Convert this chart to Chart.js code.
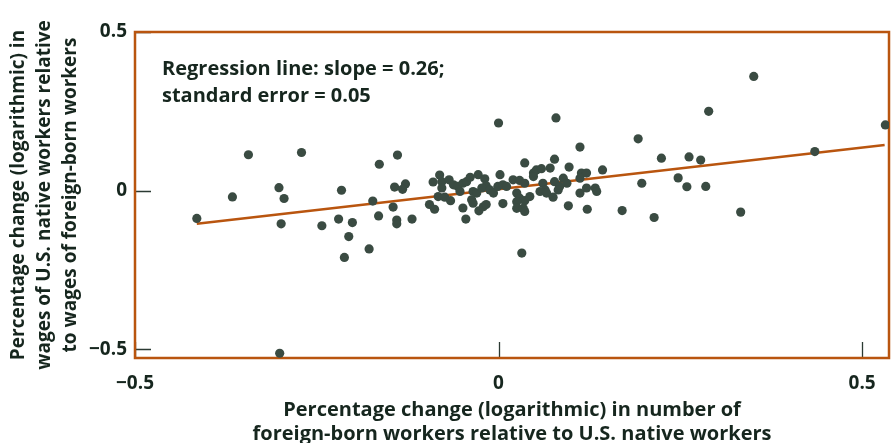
<!DOCTYPE html>
<html>
<head>
<meta charset="utf-8">
<script src="https://cdn.jsdelivr.net/npm/chart.js@4.4.1/dist/chart.umd.min.js"></script>
<style>
  html, body { margin: 0; padding: 0; background: #fff; }
</style>
</head>
<body>
<canvas id="myChart" width="896" height="443"></canvas>
<script>
const ctx = document.querySelector("#myChart");

// metro areas: change in foreign-born share vs change in relative wages
const pointsX = [
  -0.415, -0.366, -0.344, -0.302, -0.295, -0.299, -0.301, -0.271, -0.243, -0.216,
  -0.220, -0.201, -0.206, -0.212, -0.178, -0.173, -0.164, -0.165, -0.145, -0.140,
  -0.140, -0.143, -0.128, -0.132, -0.139, -0.119, -0.095, -0.088, -0.090, -0.081,
  -0.078, -0.078, -0.083, -0.074, -0.066, -0.068, -0.062, -0.056, -0.053, -0.049,
  -0.044, -0.039, -0.035, -0.030, -0.037, -0.035, -0.049, -0.045, -0.028, -0.019,
  -0.017, -0.023, -0.012, -0.007, -0.027, -0.021, -0.017, 0.002, -0.001, 0.006,
  0.011, 0.006, 0.000, 0.079, 0.032, 0.112, 0.077, 0.036, 0.097, 0.143,
  0.048, 0.052, 0.059, 0.071, 0.114, 0.121, 0.112, 0.020, 0.029, 0.036,
  0.048, 0.061, 0.064, 0.077, 0.089, 0.084, 0.094, 0.057, 0.066, 0.075,
  0.082, 0.025, 0.029, 0.036, 0.043, 0.112, 0.121, 0.133, 0.135, 0.025,
  0.025, 0.034, 0.036, 0.096, 0.122, 0.170, 0.214, 0.333, 0.197, 0.247,
  0.259, 0.285, 0.351, 0.289, 0.192, 0.224, 0.262, 0.278, 0.435, 0.532
];
const pointsY = [
  -0.088, -0.020, 0.113, 0.009, -0.025, -0.105, -0.513, 0.120, -0.111, 0.001,
  -0.090, -0.101, -0.145, -0.211, -0.184, -0.033, 0.083, -0.080, -0.052, -0.093,
  -0.105, 0.011, 0.021, 0.004, 0.112, -0.090, -0.044, -0.059, 0.027, 0.049,
  0.028, 0.008, -0.019, -0.021, -0.032, 0.034, 0.018, 0.013, -0.003, 0.023,
  0.028, 0.042, -0.003, -0.008, -0.029, -0.040, -0.055, -0.090, 0.050, 0.037,
  0.015, 0.008, 0.002, -0.008, -0.064, -0.051, -0.044, 0.050, 0.013, 0.018,
  0.013, -0.041, 0.213, 0.229, -0.197, 0.137, 0.099, 0.087, 0.074, 0.065,
  0.055, 0.065, 0.069, 0.071, 0.055, 0.055, 0.039, 0.034, 0.032, 0.023,
  0.044, 0.023, 0.002, 0.028, 0.039, 0.013, 0.023, -0.003, -0.008, -0.021,
  0.002, -0.008, -0.024, -0.032, -0.019, -0.008, 0.008, 0.008, -0.003, -0.035,
  -0.056, -0.056, -0.066, -0.048, -0.059, -0.063, -0.085, -0.068, 0.023, 0.040,
  0.012, 0.013, 0.360, 0.250, 0.163, 0.102, 0.106, 0.096, 0.123, 0.207
];

// regression line end points
const regX = [-0.415, 0.531];
const regY = [-0.105, 0.144];

const xTicks = [-0.5, 0, 0.5];
const yTicks = [-0.5, 0, 0.5];

const xTitle = [
  "Percentage change (logarithmic) in number of",
  "foreign-born workers relative to U.S. native workers",
];
const yTitle = [
  "Percentage change (logarithmic) in",
  "wages of U.S. native workers relative",
  "to wages of foreign-born workers",
];
const noteLines = ["Regression line: slope = 0.26;", "standard error = 0.05"];

const orange = "#b9550f";
const dotColor = "#3a4b42";
const textColor = "#16261e";
const fontFamily = '"Open Sans", "DejaVu Sans", sans-serif';

function fmt(v) {
  if (v === 0) return "0";
  return v < 0 ? "\u2212" + Math.abs(v) : String(v);
}

const framePlugin = {
  id: "frame",
  beforeDatasetsDraw(chart) {
    const c = chart.ctx;
    const a = chart.chartArea;
    const sx = chart.scales.x;
    const sy = chart.scales.y;
    c.save();
    // ticks point into the plot
    c.strokeStyle = "#2b3a33";
    c.lineWidth = 1.3;
    c.beginPath();
    xTicks.forEach((v) => {
      const px = Math.round(sx.getPixelForValue(v)) + 0.5;
      c.moveTo(px, a.bottom);
      c.lineTo(px, a.bottom - 16);
    });
    yTicks.forEach((v) => {
      const py = Math.round(sy.getPixelForValue(v)) + 0.5;
      c.moveTo(a.left, py);
      c.lineTo(a.left + 16, py);
    });
    c.stroke();

    c.strokeStyle = orange;
    c.lineWidth = 2.5;
    c.strokeRect(a.left, a.top, a.right - a.left, a.bottom - a.top);

    c.fillStyle = textColor;
    c.font = "bold 20px " + fontFamily;
    c.textBaseline = "middle";
    noteLines.forEach((t, i) => c.fillText(t, a.left + 27, a.top + 37 + i * 27));
    c.restore();
  },
};

const data = {
  datasets: [
    {
      data: pointsX.map((x, i) => ({ x: x, y: pointsY[i] })),
      backgroundColor: dotColor,
      borderWidth: 0,
      pointRadius: 4.6,
      order: 0,
    },
    {
      data: regX.map((x, i) => ({ x: x, y: regY[i] })),
      showLine: true,
      borderColor: orange,
      borderWidth: 2.5,
      pointRadius: 0,
      order: 1,
    },
  ],
};

const config = {
  type: "scatter",
  data: data,
  plugins: [framePlugin],
  options: {
    responsive: false,
    animation: false,
    layout: { padding: { top: 32, right: 7, left: 0, bottom: 0 } },
    plugins: {
      legend: { display: false },
      tooltip: { enabled: false },
    },
    scales: {
      x: {
        type: "linear",
        min: -0.5,
        max: 0.537,
        grid: { display: false },
        border: { display: false },
        afterBuildTicks: (s) => { s.ticks = xTicks.map((v) => ({ value: v })); },
        afterFit: (s) => { s.height = 85; },
        ticks: {
          callback: fmt,
          color: textColor,
          padding: 6,
          font: { family: fontFamily, size: 19, weight: "bold" },
        },
        title: {
          display: true,
          text: xTitle,
          color: textColor,
          padding: { top: 2, bottom: -3 },
          font: { family: fontFamily, size: 20, weight: "bold", lineHeight: 1.2 },
        },
      },
      y: {
        type: "linear",
        min: -0.528,
        max: 0.5,
        grid: { display: false },
        border: { display: false },
        afterBuildTicks: (s) => { s.ticks = yTicks.map((v) => ({ value: v })); },
        afterFit: (s) => { s.width = 135; },
        ticks: {
          callback: fmt,
          color: textColor,
          padding: 0,
          font: { family: fontFamily, size: 19, weight: "bold" },
        },
        title: {
          display: true,
          text: yTitle,
          color: textColor,
          padding: { top: 6, bottom: 0 },
          font: { family: fontFamily, size: 19, weight: "bold", lineHeight: 1.37 },
        },
      },
    },
  },
};

const myChart = new Chart(ctx, config);
</script>
</body>
</html>
